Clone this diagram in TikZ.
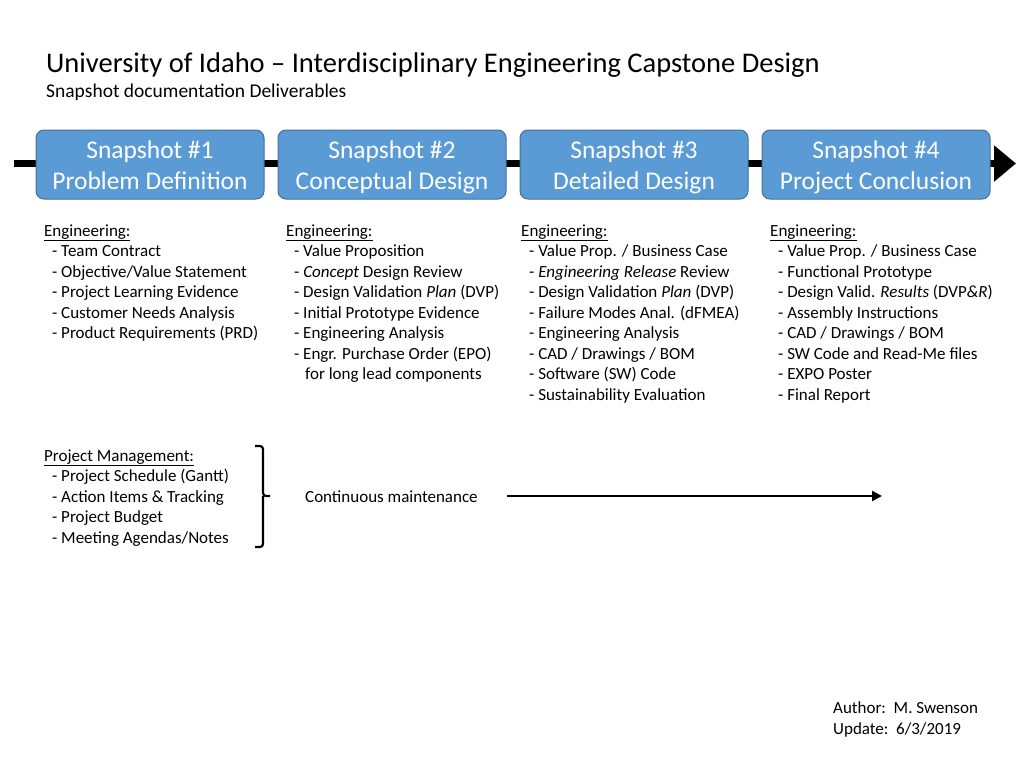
\documentclass[tikz,border=0pt]{standalone}
\usepackage{fontspec}
\setmainfont{Carlito}
\usetikzlibrary{arrows.meta, positioning, calc}
\definecolor{snapfill}{RGB}{91,155,213}
\definecolor{snapedge}{RGB}{65,113,156}
\newcommand{\itm}{\hspace*{8pt}- }
\newcommand{\toprule}{\rule{0pt}{27.7pt}}

\begin{document}
\begin{tikzpicture}[x=1pt, y=-1pt,
    snapbox/.style={draw=snapedge, fill=snapfill, line width=1pt, rounded corners=8pt, minimum width=228pt, minimum height=69pt, align=center, text=white, inner sep=0pt, font=\fontsize{25.5}{31}\selectfont},
    list/.style={anchor=base west, align=left, inner sep=0pt, font=\fontsize{17}{20.5}\selectfont},
    timeline/.style={line width=7pt, -{Triangle[length=22pt, width=35pt]}},
    arrow/.style={line width=2.5pt, -{Triangle[length=10pt, width=10pt]}}
]
    \useasboundingbox (0,0) rectangle (1024,768);

    % header
    \node[anchor=base west, inner sep=0pt, font=\fontsize{28.5}{32}\selectfont] (title) at (46,72) {University of Idaho -- Interdisciplinary Engineering Capstone Design};
    \node[anchor=base west, inner sep=0pt, font=\fontsize{19.5}{22}\selectfont] (subtitle) at (46,97.5) {Snapshot documentation Deliverables};

    % timeline
    \coordinate (tlstart) at (14,163.5);
    \coordinate (tlend) at (1016,163.5);
    \draw[timeline] (tlstart) -- (tlend);

    \node[snapbox] (snap1) at (150,164.5) {\toprule Snapshot \#1\\\strut Problem Definition};
    \node[snapbox] (snap2) at (392,164.5) {\toprule Snapshot \#2\\\strut Conceptual Design};
    \node[snapbox] (snap3) at (634,164.5) {\toprule Snapshot \#3\\\strut Detailed Design};
    \node[snapbox] (snap4) at (876,164.5) {\toprule Snapshot \#4\\\strut Project Conclusion};

    % engineering deliverables (base = last line)
    \node[list] (eng1) at (44,338.5) {\underline{Engineering:}\\
        \itm Team Contract\\
        \itm Objective/Value Statement\\
        \itm Project Learning Evidence\\
        \itm Customer Needs Analysis\\
        \itm Product Requirements (PRD)};
    \node[list] (eng2) at (286,379.5) {\underline{Engineering:}\\
        \itm Value Proposition\\
        \itm \textit{Concept} Design Review\\
        \itm Design Validation \textit{Plan} (DVP)\\
        \itm Initial Prototype Evidence\\
        \itm Engineering Analysis\\
        \itm Engr. Purchase Order (EPO)\\
        \hspace*{19pt}for long lead components};
    \node[list] (eng3) at (521,400) {\underline{Engineering:}\\
        \itm Value Prop. / Business Case\\
        \itm \textit{Engineering Release} Review\\
        \itm Design Validation \textit{Plan} (DVP)\\
        \itm Failure Modes Anal. (dFMEA)\\
        \itm Engineering Analysis\\
        \itm CAD / Drawings / BOM\\
        \itm Software (SW) Code\\
        \itm Sustainability Evaluation};
    \node[list] (eng4) at (770,400) {\underline{Engineering:}\\
        \itm Value Prop. / Business Case\\
        \itm Functional Prototype\\
        \itm Design Valid. \textit{Results} (DVP\textit{\&R})\\
        \itm Assembly Instructions\\
        \itm CAD / Drawings / BOM\\
        \itm SW Code and Read-Me files\\
        \itm EXPO Poster\\
        \itm Final Report};

    % project management
    \node[list] (pm) at (44,543) {\underline{Project Management:}\\
        \itm Project Schedule (Gantt)\\
        \itm Action Items \& Tracking\\
        \itm Project Budget\\
        \itm Meeting Agendas/Notes};
    \draw[line width=2.2pt, rounded corners=3pt] (255,446) -- (263,446) -- (263,496) -- (270,496)
        (263,496) -- (263,547) -- (255,547);
    \node[list] (cont) at (305,502) {Continuous maintenance};
    \coordinate (pmstart) at (507,496);
    \coordinate (pmend) at (882,496);
    \draw[arrow] (pmstart) -- (pmend);

    % footer
    \node[list] (author) at (833,734) {Author:\ \ M. Swenson\\Update:\ \ 6/3/2019};
\end{tikzpicture}
\end{document}
